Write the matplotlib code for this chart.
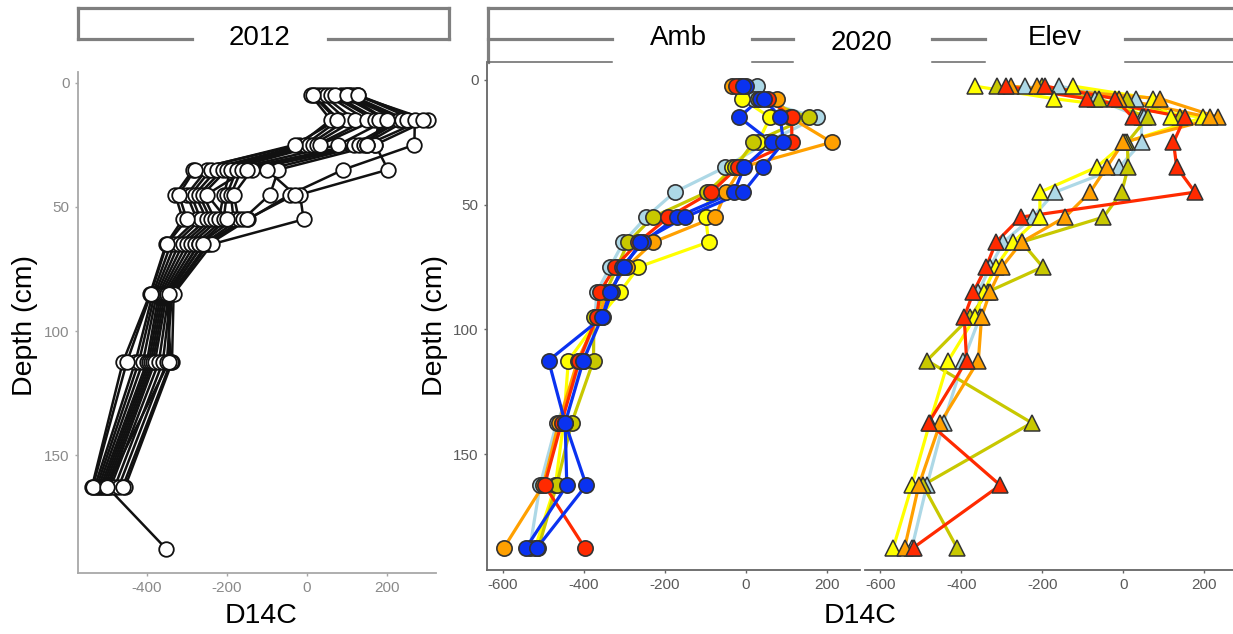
import numpy as np
import matplotlib
matplotlib.use("Agg")
import matplotlib.pyplot as plt

plt.rcParams['font.family'] = ['Liberation Sans', 'DejaVu Sans']
plt.rcParams['axes.unicode_minus'] = False

nan = np.nan

# --- 2012 profiles (white circles) ---
depth_2012 = [5, 15, 25, 35, 45, 55, 65, 85, 112.5, 162.5, 187.5]
cores_2012 = [
    [10, 60, -20, -284, -329, -310, -352, -392, -460, -537, nan],
    [20, 80, -5, -250, -300, -275, -340, -385, -429, -530, nan],
    [30, 100, 5, -240, -290, -265, -330, -380, -420, -525, nan],
    [40, 120, 15, -225, -280, -250, -320, -375, -410, -520, nan],
    [50, 150, 25, -210, -270, -240, -310, -370, -400, -515, nan],
    [60, 170, 33, -200, -260, -230, -300, -365, -395, -510, nan],
    [85, 200, 79, -190, -208, -220, -290, -360, -390, -505, nan],
    [95, 230, 117, -175, -200, -208, -280, -355, -385, -500, nan],
    [105, 237, 130, -163, -190, -183, -270, -350, -380, -495, nan],
    [110, 250, 142, -137, -183, -170, -260, -345, -370, -490, nan],
    [120, 303, 171, -71, -92, -160, -250, -340, -360, -480, nan],
    [128, 270, 269, 91, -42, -146, -245, -337, -350, -470, nan],
    [70, 180, 171, 203, -17, -8, -237, -333, -337, -454, nan],
    [15, 75, -30, -280, -320, -300, -350, -390, -450, -535, nan],
    [100, 200, 150, -150, -250, -200, -270, -350, -340, -460, nan],
    [128, 290, 150, -100, -30, -150, -260, -345, -345, -500, -352],
]

# --- 2020 profiles ---
depth_2020 = [2.5, 7.5, 15, 25, 35, 45, 55, 65, 75, 85, 95, 112.5, 137.5, 162.5, 187.5]

amb_lblue = [27, 20, 175, 52, -51, -176, -246, -302, -335, -368, -372, -400, -467, -508, -533]
amb_yellow = [-15, -10, 60, 30, -35, -90, -99, -92, -265, -310, -360, -438, -450, -470, -520]
amb_olive = [-15, 30, 155, 19, -26, -96, -230, -290, -318, -345, -375, -376, -430, -467, -512]
amb_orange = [-35, 76, 110, 212, -10, -49, -76, -228, -294, -340, -365, -415, -462, -500, -597]
amb_red = [-25, 55, 113, 114, -20, -85, -191, -265, -323, -360, -368, -411, -455, -497, -398]
amb_blue1 = [0, 35, -16, 64, -4, -29, -170, -253, -306, -331, -353, -487, -446, -442, -542]
amb_blue2 = [-6, 45, 85, 93, 43, -6, -150, -260, -300, -335, -355, -401, -446, -394, -515]

elev_lblue_a = [-243, -70, 45, 45, -10, -169, -224, -296, -329, -358, -354, -395, -444, -485, -522]
elev_lblue_b = [-160, 31, 50] + [nan] * 12
elev_olive_a = [-313, -60, 60, 10, 12, -4, -49, -251, -199, -335, -378, -485, -226, -495, -411]
elev_olive_b = [-200, 8, 140] + [nan] * 12
elev_yellow_a = [-366, -171, 198, 5, -66, -206, -206, -272, -315, -345, -366, -432, -478, -522, -568]
elev_yellow_b = [-123, 74, 119] + [nan] * 12
elev_orange_a = [-278, 91, 235, 0, -41, -82, -144, -251, -300, -329, -350, -358, -452, -505, -540]
elev_orange_b = [-212, -10, 214] + [nan] * 12
elev_red_a = [-290, -90, 152, 124, 132, 177, -253, -314, -339, -370, -393, -387, -481, -304, -518]
elev_red_b = [-193, -20, 23] + [nan] * 12

LBLUE, YEL, OLIVE, ORANGE, RED, BLUE = '#ADD8E6', '#FFFF00', '#C8C800', '#FFA000', '#FF2A00', '#0A32F0'

amb_series = [(amb_lblue, LBLUE), (amb_yellow, YEL), (amb_olive, OLIVE),
              (amb_orange, ORANGE), (amb_red, RED), (amb_blue1, BLUE), (amb_blue2, BLUE)]
elev_series = [(elev_lblue_a, LBLUE), (elev_lblue_b, LBLUE), (elev_olive_a, OLIVE),
               (elev_olive_b, OLIVE), (elev_yellow_a, YEL), (elev_yellow_b, YEL),
               (elev_orange_a, ORANGE), (elev_orange_b, ORANGE),
               (elev_red_a, RED), (elev_red_b, RED)]

W, H = 1233, 634
fig = plt.figure(figsize=(W / 100, H / 100), dpi=100)


def rect(x0, y0, x1, y1):
    return [x0 / W, 1 - y1 / H, (x1 - x0) / W, (y1 - y0) / H]


ax12 = fig.add_axes(rect(78, 72, 436, 573))
axA = fig.add_axes(rect(487, 62, 860, 570))
axE = fig.add_axes(rect(865, 62, 1233, 570))

# 2012
for vals in cores_2012:
    ax12.plot(vals, depth_2012, color='#111111', lw=1.8, zorder=2)
for vals in cores_2012:
    ax12.plot(vals, depth_2012, ls='none', marker='o', ms=10.5, mfc='white',
              mec='#111111', mew=1.3, zorder=3)
ax12.set_xlim(-572, 323)
ax12.set_ylim(197.3, -4.3)
ax12.set_xticks([-400, -200, 0, 200])
ax12.set_yticks([0, 50, 100, 150])

# 2020 Amb
for vals, c in amb_series:
    axA.plot(vals, depth_2020, color=c, lw=2.3, zorder=2)
for vals, c in amb_series:
    axA.plot(vals, depth_2020, ls='none', marker='o', ms=11, mfc=c,
             mec='#333333', mew=1.2, zorder=3)
axA.set_xlim(-639, 282)
axA.set_ylim(196.5, -7.2)
axA.set_xticks([-600, -400, -200, 0, 200])
axA.set_yticks([0, 50, 100, 150])

# 2020 Elev
for vals, c in elev_series:
    axE.plot(vals, depth_2020, color=c, lw=2.3, zorder=2)
for vals, c in elev_series:
    axE.plot(vals, depth_2020, ls='none', marker='^', ms=12, mfc=c,
             mec='#333333', mew=1.1, zorder=3)
axE.set_xlim(-638, 271)
axE.set_ylim(196.5, -7.2)
axE.set_xticks([-600, -400, -200, 0, 200])
axE.set_yticks([])

for ax, sc, tc in [(ax12, '#a8a8a8', '#8a8a8a'), (axA, '#666666', '#5a5a5a'), (axE, '#666666', '#5a5a5a')]:
    for s in ['top', 'right']:
        ax.spines[s].set_visible(False)
    for s in ['left', 'bottom']:
        ax.spines[s].set_color(sc)
        ax.spines[s].set_linewidth(1.3)
    ax.tick_params(colors=sc, labelcolor=tc, labelsize=11, length=2.5, width=1)
    ax.patch.set_alpha(0)
axE.spines['left'].set_visible(False)

# strips and labels drawn in pixel coordinates
ov = fig.add_axes([0, 0, 1, 1], zorder=10)
ov.set_xlim(0, W)
ov.set_ylim(H, 0)
ov.axis('off')
ov.patch.set_alpha(0)

g = '#7f7f7f'
thick = 2.3
# 2012 strip
ov.plot([78, 449], [8, 8], color=g, lw=thick)
ov.plot([78, 78], [8, 39], color=g, lw=thick)
ov.plot([449, 449], [8, 39], color=g, lw=thick)
ov.plot([78, 192], [39, 39], color=g, lw=thick)
ov.plot([328, 449], [39, 39], color=g, lw=thick)
ov.text(260, 38, '2012', ha='center', va='center', fontsize=20)

# 2020 strip
ov.plot([488, 1233], [8, 8], color=g, lw=thick)
ov.plot([488, 488], [8, 62], color=g, lw=thick)
for x0, x1 in [(488, 612), (752, 793), (932, 985), (1125, 1233)]:
    ov.plot([x0, x1], [39, 39], color=g, lw=thick)
    ov.plot([x0, x1], [62, 62], color='#666666', lw=1.1)
ov.text(678, 38, 'Amb', ha='center', va='center', fontsize=20)
ov.text(862, 43, '2020', ha='center', va='center', fontsize=20)
ov.text(1055, 38, 'Elev', ha='center', va='center', fontsize=20)

# axis titles
ov.text(25, 326, 'Depth (cm)', ha='center', va='center', rotation=90, fontsize=20.5)
ov.text(435, 326, 'Depth (cm)', ha='center', va='center', rotation=90, fontsize=20.5)
ov.text(261, 616, 'D14C', ha='center', va='center', fontsize=20.5)
ov.text(860, 616, 'D14C', ha='center', va='center', fontsize=20.5)

fig.savefig('out.png', dpi=100)
